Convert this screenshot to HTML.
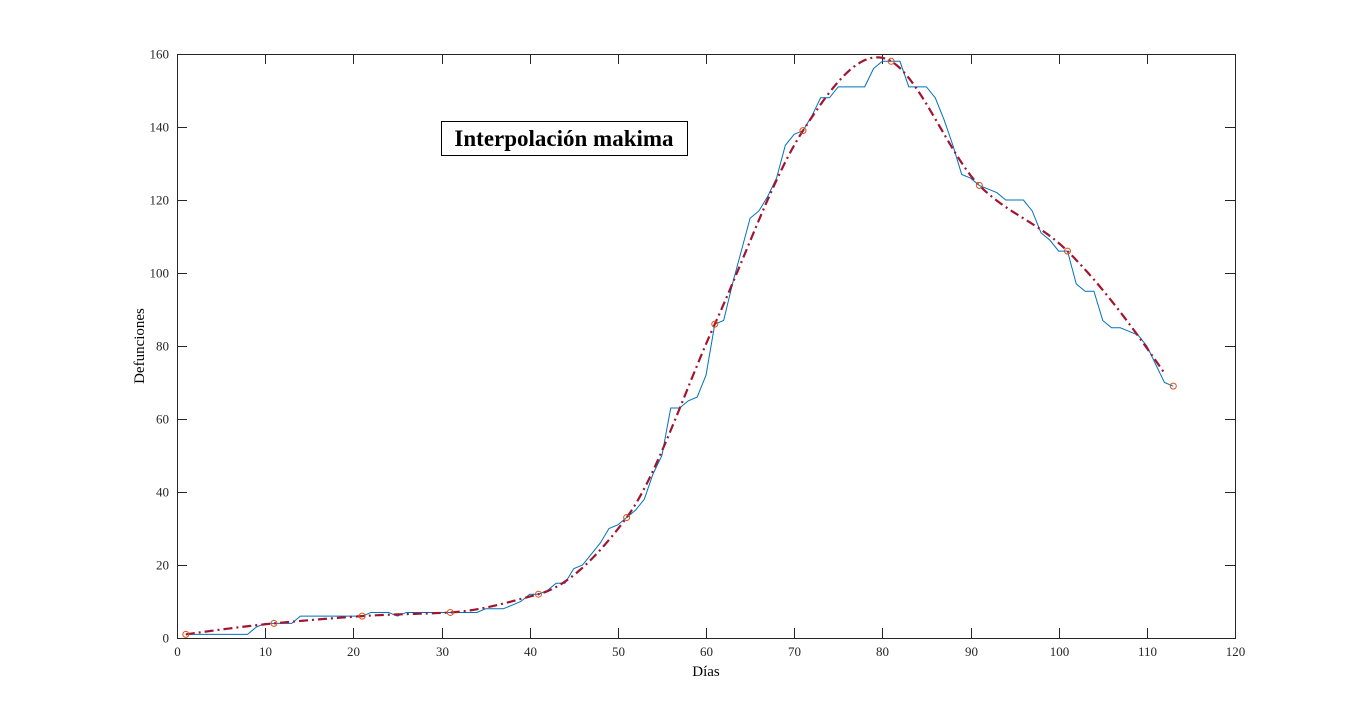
<!DOCTYPE html>
<html><head><meta charset="utf-8"><style>
body{margin:0;background:#fff;}
svg{display:block;font-family:"Liberation Serif",serif;}
</style></head><body>
<svg id="chart" width="1366" height="717" xmlns="http://www.w3.org/2000/svg">
<rect width="1366" height="717" fill="#fff"/>
<g id="axes"></g>
<g id="plot"></g>
<g>
<rect x="441.5" y="121.5" width="246" height="34" fill="#fff" stroke="#000" stroke-width="1"/>
<text x="564" y="146" text-anchor="middle" font-size="23" font-weight="bold">Interpolación makima</text>
</g>
<text x="706" y="676" text-anchor="middle" font-size="15">Días</text>
<text transform="translate(144,346) rotate(-90)" text-anchor="middle" font-size="15">Defunciones</text>
</svg>
<script>
const days=[];for(let i=1;i<=113;i++)days.push(i);
const deaths=[1,1,1,1,1,1,1,1,3,4,4,4,4,6,6,6,6,6,6,6,6,7,7,7,6,7,7,7,7,7,7,7,7,7,8,8,8,9,10,12,12,13,15,15,19,20,23,26,30,31,33,35,38,45,50,63,63,65,66,72,86,87,97,106,115,117,121,126,135,138,139,143,148,148,151,151,151,151,156,158,158,158,151,151,151,148,142,135,127,126,124,123,122,120,120,120,117,111,109,106,106,97,95,95,87,85,85,84,83,80,75,70,69];
const sampleX=[1,11,21,31,41,51,61,71,81,91,101,113];
const sampleY=[1,4,6,7,12,33,86,139,158,124,106,69];
const xTicks=[0,10,20,30,40,50,60,70,80,90,100,110,120];
const yTicks=[0,20,40,60,80,100,120,140,160];
const X0=177,X1=1235,Y0=638,Y1=54;
const sx=v=>X0+(v-0)/(120-0)*(X1-X0);
const sy=v=>Y0-(v-0)/(160-0)*(Y0-Y1);
const NS="http://www.w3.org/2000/svg";
function mk(tag,attrs,parent){const e=document.createElementNS(NS,tag);for(const k in attrs)e.setAttribute(k,attrs[k]);parent.appendChild(e);return e;}
const axes=document.getElementById('axes'),plot=document.getElementById('plot');
const frame=mk('rect',{x:X0+0.5,y:Y1+0.5,width:X1-X0,height:Y0-Y1,fill:'none',stroke:'#262626','stroke-width':1},axes);


xTicks.forEach(t=>{const x=Math.round(sx(t))+0.5;
 mk('line',{x1:x,y1:Y0,x2:x,y2:Y0-10,stroke:'#262626'},axes);
 mk('line',{x1:x,y1:Y1,x2:x,y2:Y1+10,stroke:'#262626'},axes);
 const tx=mk('text',{x:x,y:Y0+18,'text-anchor':'middle','font-size':13,fill:'#262626'},axes);tx.textContent=t;
 
 
});
yTicks.forEach(t=>{const y=Math.round(sy(t))+0.5;
 mk('line',{x1:X0,y1:y,x2:X0+10,y2:y,stroke:'#262626'},axes);
 mk('line',{x1:X1,y1:y,x2:X1-10,y2:y,stroke:'#262626'},axes);
 const ty=mk('text',{x:X0-8,y:y+4,'text-anchor':'end','font-size':13,fill:'#262626'},axes);ty.textContent=t;
 
 
});
// blue data
const bl=mk('polyline',{points:days.map((d,i)=>sx(d)+','+sy(deaths[i])).join(' '),fill:'none',stroke:'#0072BD','stroke-width':1},plot);


// makima
function makima(xs,ys,xq){const n=xs.length;const m=[];for(let i=0;i<n-1;i++)m.push((ys[i+1]-ys[i])/(xs[i+1]-xs[i]));
 const mm=m.slice();const a=2*m[0]-m[1],b=2*a-m[0];const c=2*m[n-2]-m[n-3],d=2*c-m[n-2];
 const M=[b,a].concat(mm,[c,d]);const s=[];
 for(let i=0;i<n;i++){const m0=M[i],m1=M[i+1],m2=M[i+2],m3=M[i+3];
  const w1=Math.abs(m3-m2)+Math.abs(m3+m2)/2,w2=Math.abs(m1-m0)+Math.abs(m1+m0)/2;
  s.push(w1+w2===0?(m1+m2)/2:(w1*m1+w2*m2)/(w1+w2));}
 return xq.map(x=>{let k=0;while(k<n-2&&x>xs[k+1])k++;const h=xs[k+1]-xs[k],t=(x-xs[k])/h;
  const h00=2*t*t*t-3*t*t+1,h10=t*t*t-2*t*t+t,h01=-2*t*t*t+3*t*t,h11=t*t*t-t*t;
  return h00*ys[k]+h10*h*s[k]+h01*ys[k+1]+h11*h*s[k+1];});}
const xq=[];for(let x=1;x<=112.2;x+=0.25)xq.push(x);
const yq=makima(sampleX,sampleY,xq);
const rl=mk('polyline',{points:xq.map((x,i)=>sx(x)+','+sy(yq[i])).join(' '),fill:'none',stroke:'#A2142F','stroke-width':2.2,'stroke-dasharray':'9 4 2 4'},plot);


sampleX.forEach((x,i)=>{const c=mk('circle',{cx:sx(x),cy:sy(sampleY[i]),r:3,fill:'none',stroke:'#D95319','stroke-width':1},plot);
 
 
});
</script>
</body></html>
